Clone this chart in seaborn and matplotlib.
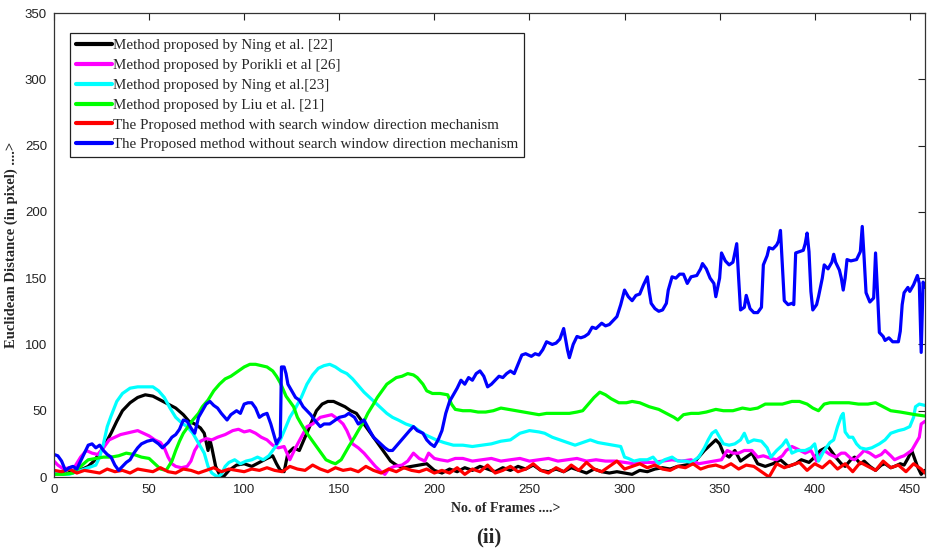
import matplotlib
matplotlib.use("Agg")
import matplotlib.pyplot as plt
import seaborn as sns

# frames / euclidean distance

# Method proposed by Ning et al. [22]
ning22_x = [0, 3, 6, 9, 12, 15, 18, 21, 24, 27, 30, 33, 36, 40, 44, 48, 52, 56, 60, 64,
            68, 71, 74, 77, 79, 81, 82, 83, 85, 87, 89, 92, 96, 100, 104, 108, 112, 115, 117, 119,
            121, 123, 126, 129, 132, 135, 138, 141, 144, 147, 150, 153, 156, 159, 162, 165, 168, 171, 174, 177,
            180, 184, 188, 192, 196, 200, 204, 208, 212, 216, 220, 224, 228, 232, 236, 240, 244, 248, 252, 256,
            260, 264, 268, 272, 276, 280, 284, 288, 292, 296, 300, 304, 308, 312, 316, 320, 324, 328, 332, 336,
            339, 342, 345, 348, 350, 352, 355, 358, 361, 364, 367, 370, 374, 378, 382, 386, 390, 393, 397, 400,
            403, 407, 411, 414, 416, 419, 421, 424, 426, 429, 432, 435, 437, 440, 442, 445, 447, 449, 451, 453,
            454, 456, 458]
ning22_y = [3, 4, 2, 4, 5, 6, 8, 12, 18, 25, 33, 42, 50, 56, 60, 62, 61, 58, 55, 52,
            47, 42, 40, 37, 33, 20, 28, 22, 8, 2, 0, 5, 9, 10, 8, 11, 14, 16, 10, 5,
            4, 18, 22, 20, 30, 40, 50, 55, 57, 57, 55, 53, 50, 48, 42, 36, 30, 24, 18, 12,
            9, 7, 8, 9, 10, 5, 3, 6, 4, 7, 5, 8, 6, 4, 7, 5, 8, 6, 9, 5,
            4, 6, 4, 7, 5, 3, 6, 4, 3, 4, 3, 2, 5, 4, 6, 7, 6, 8, 9, 10,
            15, 20, 24, 28, 25, 18, 15, 20, 12, 15, 18, 10, 8, 10, 13, 8, 10, 13, 11, 15,
            20, 23, 15, 10, 8, 13, 15, 10, 12, 8, 5, 9, 10, 7, 8, 10, 9, 14, 20, 12,
            8, 2, 5]

# Method proposed by Porikli et al [26]
porikli_x = [0, 2, 5, 8, 11, 14, 17, 20, 23, 26, 29, 32, 35, 38, 41, 44, 47, 50, 53, 56,
             58, 60, 62, 64, 67, 70, 72, 74, 77, 80, 83, 86, 90, 94, 97, 100, 103, 106, 109, 112,
             115, 118, 121, 124, 127, 130, 133, 136, 140, 143, 146, 149, 152, 154, 157, 160, 163, 166, 169, 172,
             174, 176, 179, 183, 186, 189, 192, 195, 197, 200, 203, 207, 211, 215, 220, 225, 230, 235, 240, 245,
             250, 255, 260, 265, 270, 275, 280, 285, 290, 295, 300, 305, 310, 315, 320, 325, 330, 335, 339, 343,
             347, 351, 354, 357, 360, 363, 367, 370, 373, 377, 380, 383, 385, 388, 391, 395, 398, 401, 403, 405,
             408, 411, 414, 416, 419, 421, 424, 426, 429, 432, 435, 437, 440, 442, 445, 447, 449, 451, 453, 455,
             456, 458]
porikli_y = [12, 9, 6, 7, 8, 15, 20, 18, 17, 22, 28, 30, 32, 33, 34, 35, 33, 31, 28, 26,
             22, 15, 10, 8, 7, 8, 12, 20, 27, 29, 28, 30, 32, 35, 36, 34, 35, 33, 30, 28,
             24, 22, 23, 13, 22, 30, 38, 40, 45, 46, 47, 44, 40, 35, 25, 22, 18, 13, 8, 4,
             2, 6, 8, 9, 12, 18, 14, 12, 18, 14, 13, 12, 14, 14, 12, 13, 14, 12, 13, 14,
             12, 13, 14, 12, 13, 14, 12, 13, 12, 12, 11, 10, 11, 11, 12, 13, 12, 13, 10, 11,
             12, 13, 20, 18, 18, 20, 20, 15, 16, 14, 13, 16, 20, 23, 21, 18, 20, 12, 17, 20,
             17, 15, 18, 18, 14, 13, 17, 20, 18, 15, 17, 20, 16, 13, 15, 16, 18, 20, 25, 30,
             40, 42]

# Method proposed by Ning et al.[23]
ning23_x = [0, 4, 8, 12, 16, 20, 22, 24, 26, 28, 30, 33, 36, 40, 44, 48, 52, 55, 58, 61,
            64, 67, 70, 73, 75, 77, 79, 81, 83, 86, 88, 90, 92, 95, 98, 101, 104, 107, 110, 113,
            116, 119, 122, 124, 127, 130, 133, 136, 139, 142, 145, 148, 151, 154, 157, 160, 163, 166, 169, 172,
            175, 178, 181, 185, 189, 192, 195, 198, 201, 205, 210, 215, 220, 225, 230, 235, 240, 245, 250, 255,
            258, 262, 266, 270, 274, 278, 282, 286, 290, 294, 298, 300, 302, 305, 308, 312, 315, 318, 321, 325,
            328, 332, 335, 339, 342, 344, 346, 348, 350, 352, 355, 358, 361, 363, 365, 368, 372, 375, 377, 380,
            383, 385, 387, 388, 391, 395, 398, 400, 402, 405, 408, 410, 412, 414, 415, 416, 418, 420, 422, 424,
            427, 430, 434, 437, 440, 444, 447, 450, 452, 453, 455, 458]
ning23_y = [3, 2, 2, 4, 6, 8, 9, 15, 25, 38, 46, 57, 63, 67, 68, 68, 68, 65, 60, 52,
            45, 41, 38, 33, 28, 23, 18, 8, 3, 0, 2, 8, 11, 13, 10, 12, 13, 15, 13, 16,
            22, 28, 38, 45, 52, 60, 70, 77, 82, 84, 85, 83, 80, 78, 74, 69, 64, 60, 56, 52,
            48, 45, 43, 40, 38, 35, 32, 30, 28, 26, 24, 24, 23, 24, 25, 27, 28, 33, 35, 34,
            33, 30, 28, 26, 24, 26, 28, 26, 25, 24, 23, 15, 14, 12, 13, 13, 15, 10, 13, 15,
            12, 12, 11, 15, 22, 28, 33, 35, 30, 25, 24, 25, 28, 33, 26, 28, 27, 22, 15, 20,
            24, 28, 22, 18, 20, 20, 22, 25, 12, 20, 26, 28, 38, 46, 48, 34, 30, 30, 25, 22,
            21, 22, 25, 28, 33, 35, 36, 38, 45, 53, 55, 54]

# Method proposed by Liu et al. [21]
liu_x = [0, 5, 10, 14, 18, 22, 26, 30, 34, 38, 42, 46, 50, 53, 56, 59, 62, 64, 66, 68,
         71, 73, 76, 78, 81, 84, 87, 90, 93, 96, 100, 103, 106, 109, 112, 115, 117, 119, 122, 124,
         126, 128, 130, 133, 136, 138, 141, 143, 146, 148, 151, 153, 155, 158, 160, 163, 165, 168, 170, 173,
         175, 178, 180, 183, 186, 189, 191, 194, 196, 199, 203, 207, 209, 211, 215, 219, 223, 227, 231, 235,
         239, 243, 247, 251, 255, 259, 263, 267, 271, 275, 278, 281, 284, 287, 290, 293, 297, 301, 304, 308,
         313, 318, 322, 326, 328, 331, 335, 339, 343, 348, 352, 357, 362, 366, 370, 374, 378, 383, 388, 392,
         396, 399, 402, 405, 408, 412, 418, 423, 428, 432, 436, 440, 445, 449, 453, 458]
liu_y = [2, 2, 3, 8, 13, 14, 15, 15, 16, 18, 17, 15, 14, 10, 6, 5, 12, 20, 27, 33,
         39, 43, 48, 53, 58, 65, 70, 74, 76, 79, 83, 85, 85, 84, 83, 80, 76, 71, 61, 57,
         53, 45, 40, 33, 27, 23, 17, 13, 11, 10, 13, 18, 23, 30, 35, 42, 48, 55, 60, 66,
         70, 73, 75, 76, 78, 77, 75, 70, 65, 63, 63, 62, 55, 51, 50, 50, 49, 49, 50, 52,
         51, 50, 49, 48, 47, 48, 48, 48, 48, 49, 50, 55, 60, 64, 62, 59, 56, 56, 57, 56,
         53, 51, 48, 45, 43, 47, 48, 48, 49, 51, 50, 50, 52, 51, 52, 55, 55, 55, 57, 57,
         55, 52, 50, 55, 56, 56, 56, 55, 55, 56, 53, 50, 49, 48, 47, 46]

# The Proposed method with search window direction mechanism
with_swd_x = list(range(0, 457, 4)) + [458]
with_swd_y = [5, 4, 6, 3, 5, 4, 3, 6, 4, 5, 3, 6, 5, 4, 7, 4, 3, 6, 5, 3, 5, 7, 4, 6, 5, 4,
              6, 5, 7, 5, 4, 8, 6, 5, 9, 6, 4, 7, 5, 6, 4, 8, 5, 3, 6, 4, 7, 5, 4, 6, 3,
              5, 3, 7, 2, 6, 4, 9, 3, 5, 8, 4, 6, 10, 5, 3, 7, 4, 9, 5, 11, 6, 4, 8, 12, 6,
              8, 10, 7, 9, 6, 5, 8, 7, 10, 6, 8, 9, 7, 10, 6, 9, 8, 4, 0, 10, 7, 9, 11, 5, 10,
              7, 12, 6, 10, 4, 11, 8, 5, 12, 7, 9, 4, 10, 6, 3]

# The Proposed method without search window direction mechanism
without_swd_x = [0, 2, 4, 6, 8, 10, 12, 14, 16, 18, 20, 22, 24, 26, 28, 30, 32, 34, 36, 38,
                 40, 42, 44, 46, 49, 52, 55, 57, 60, 62, 64, 66, 68, 70, 72, 74, 76, 78, 80, 82,
                 84, 86, 88, 91, 93, 96, 98, 100, 102, 104, 106, 108, 110, 112, 114, 116, 117, 118, 119, 119.6,
                 121, 122, 123, 125, 127, 129, 131, 133, 135, 137, 140, 142, 145, 148, 150, 153, 155, 158, 160, 163,
                 166, 168, 171, 174, 176, 178, 181, 184, 187, 189, 191, 194, 196, 198, 200, 202, 204, 206, 208, 210,
                 212, 214, 216, 218, 220, 222, 224, 226, 228, 230, 232, 234, 236, 238, 240, 242, 244, 246, 248, 251,
                 253, 255, 257, 259, 262, 264, 266, 268, 270, 271, 273, 275, 277, 279, 281, 283, 285, 288, 290, 292,
                 294, 296, 298, 300, 302, 304, 306, 308, 310, 312, 313, 314, 316, 318, 320, 322, 323, 325, 327, 329,
                 331, 333, 335, 338, 340, 341, 343, 345, 347, 348, 350, 351, 353, 355, 357, 359, 360, 361, 363, 364,
                 366, 368, 370, 372, 373, 375, 376, 378, 380, 381, 382, 383, 384, 386, 388, 389, 390, 392, 394, 395,
                 396, 397, 398, 399, 401, 402, 404, 405, 407, 409, 410, 411, 413, 414, 415, 416, 417, 419, 422, 424,
                 425, 426, 427, 429, 431, 432, 433, 434, 436, 437, 439, 441, 444, 445, 446, 447, 449, 450, 452, 454,
                 455, 456, 457, 458]
without_swd_y = [17, 16, 12, 5, 7, 8, 6, 12, 18, 24, 25, 22, 24, 20, 17, 15, 9, 5, 8, 11,
                 13, 18, 22, 25, 27, 28, 25, 22, 26, 30, 32, 36, 43, 42, 37, 33, 45, 50, 55, 57,
                 54, 52, 48, 43, 47, 50, 48, 55, 56, 56, 52, 45, 47, 48, 40, 30, 25, 28, 30, 83,
                 83, 78, 70, 65, 60, 58, 53, 50, 47, 43, 38, 40, 40, 43, 45, 46, 48, 45, 40, 43,
                 35, 30, 26, 22, 20, 20, 25, 30, 35, 38, 35, 33, 28, 25, 23, 28, 35, 48, 57, 62,
                 67, 73, 70, 75, 73, 78, 80, 76, 68, 70, 73, 76, 75, 78, 80, 78, 85, 92, 93, 91,
                 93, 92, 96, 102, 100, 101, 104, 112, 96, 90, 100, 106, 105, 106, 108, 113, 112, 116, 114, 115,
                 118, 121, 130, 141, 136, 133, 137, 138, 145, 151, 140, 131, 127, 125, 126, 131, 141, 151, 150, 153,
                 153, 146, 151, 152, 157, 161, 157, 150, 146, 136, 150, 169, 163, 160, 162, 176, 150, 126, 128, 137,
                 127, 124, 124, 128, 160, 167, 173, 172, 175, 178, 186, 160, 133, 130, 131, 130, 169, 170, 171, 176,
                 184, 170, 140, 126, 130, 136, 150, 160, 157, 162, 168, 162, 156, 150, 141, 150, 164, 163, 164, 170,
                 189, 165, 139, 132, 135, 169, 140, 109, 106, 103, 105, 102, 102, 110, 130, 139, 143, 140, 145, 152,
                 146, 94, 147, 143]

labels = [
    "Method proposed by Ning et al. [22]",
    "Method proposed by Porikli et al [26]",
    "Method proposed by Ning et al.[23]",
    "Method proposed by Liu et al. [21]",
    "The Proposed method with search window direction mechanism",
    "The Proposed method without search window direction mechanism",
]
colors = ["#000000", "#ff00ff", "#00ffff", "#00ff00", "#ff0000", "#0000ff"]

series = [
    (ning22_x, ning22_y),
    (porikli_x, porikli_y),
    (ning23_x, ning23_y),
    (liu_x, liu_y),
    (with_swd_x, with_swd_y),
    (without_swd_x, without_swd_y),
]

sns.set_style("white")
plt.rcParams["font.family"] = ["Liberation Sans", "DejaVu Sans"]

fig = plt.figure(figsize=(9.29, 5.48), dpi=100)
ax = fig.add_axes([54 / 929, 71 / 548, 871 / 929, 464 / 548])

for (xs, ys), lab, col in zip(series, labels, colors):
    assert len(xs) == len(ys), lab
    sns.lineplot(x=xs, y=ys, ax=ax, color=col, linewidth=2.3, label=lab,
                 sort=False, estimator=None)

ax.set_xlim(0, 458)
ax.set_ylim(0, 350)
ax.set_xticks(range(0, 451, 50))
ax.set_yticks(range(0, 351, 50))
ax.tick_params(direction="in", length=5, width=0.8, top=True, right=True,
               labelsize=9.5, colors="#222222", pad=5)
for sp in ax.spines.values():
    sp.set_color("#333333")
    sp.set_linewidth(0.9)

ax.set_xlabel("")
ax.set_ylabel("")
serif = ["Liberation Serif", "DejaVu Serif"]
fig.text(506 / 929, 1 - 509 / 548, "No. of Frames ....>", family=serif,
         fontweight="bold", fontsize=10, ha="center", va="center")
fig.text(11 / 929, 1 - 245 / 548, "Euclidean Distance (in pixel) ....>", family=serif,
         fontweight="bold", fontsize=10.5, ha="center", va="center", rotation=90)
fig.text(489 / 929, 1 - 537 / 548, "(ii)", family=serif,
         fontweight="bold", fontsize=15, ha="center", va="center")

leg = ax.legend(loc="upper left", bbox_to_anchor=(0.018, 0.957), borderaxespad=0,
                prop={"family": serif, "size": 10.8}, handlelength=2.4,
                handletextpad=0.1, labelspacing=0.42, borderpad=0.4,
                fancybox=False, framealpha=1, edgecolor="#222222")
leg.get_frame().set_linewidth(0.9)
for h in leg.get_lines():
    h.set_linewidth(3)

fig.savefig("out.png", dpi=100)
